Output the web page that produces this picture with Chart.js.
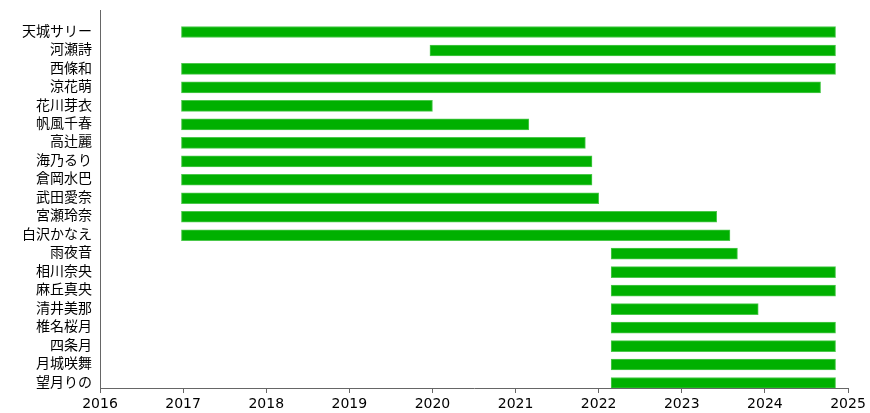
<!DOCTYPE html>
<html>
<head>
<meta charset="utf-8">
<script src="https://cdn.jsdelivr.net/npm/chart.js@4"></script>
<style>
  html, body { margin: 0; padding: 0; background: #fff; }
  #wrap { width: 870px; height: 413px; }
</style>
</head>
<body>
<div id="wrap"><canvas id="chart"></canvas></div>
<script>
const names = ['天城サリー', '河瀬詩', '西條和', '涼花萌', '花川芽衣', '帆風千春', '高辻麗', '海乃るり', '倉岡水巴', '武田愛奈', '宮瀬玲奈', '白沢かなえ', '雨夜音', '相川奈央', '麻丘真央', '清井美那', '椎名桜月', '四条月', '月城咲舞', '望月りの'];
const startYear = [2016.98, 2019.97, 2016.98, 2016.98, 2016.98, 2016.98, 2016.98, 2016.98, 2016.98, 2016.98, 2016.98, 2016.98, 2022.15, 2022.15, 2022.15, 2022.15, 2022.15, 2022.15, 2022.15, 2022.15];
const endYear = [2024.85, 2024.85, 2024.85, 2024.67, 2020.0, 2021.16, 2021.84, 2021.92, 2021.92, 2022.0, 2023.42, 2023.58, 2023.67, 2024.85, 2024.85, 2023.92, 2024.85, 2024.85, 2024.85, 2024.85];
const yearTicks = [2016, 2017, 2018, 2019, 2020, 2021, 2022, 2023, 2024, 2025];

const axisColor = '#666';
const font = { family: "'DejaVu Sans', 'Noto Sans CJK JP', sans-serif", size: 14 };

new Chart(document.getElementById('chart'), {
    type: 'bar',
    data: {
        datasets: [{
            data: names.map((n, i) => ({ x: [startYear[i], endYear[i]], y: i })),
            backgroundColor: '#00b000',
            borderColor: '#4cc84c',
            borderWidth: 1,
            borderSkipped: false,
            barThickness: 11
        }]
    },
    options: {
        indexAxis: 'y',
        responsive: true,
        maintainAspectRatio: false,
        animation: false,
        layout: { padding: { top: 10, right: 22, left: 0, bottom: 0 } },
        plugins: { legend: { display: false }, tooltip: { enabled: false } },
        scales: {
            x: {
                type: 'linear',
                min: 2016,
                max: 2025,
                afterBuildTicks: s => { s.ticks = yearTicks.map(v => ({ value: v })); },
                afterFit: s => { s.height = 25; },
                ticks: { color: '#000', font: font, padding: 3, maxRotation: 0, callback: v => String(v) },
                grid: { display: true, drawOnChartArea: false, drawTicks: true, tickLength: 5, color: axisColor },
                border: { display: true, color: axisColor, width: 1 }
            },
            y: {
                type: 'linear',
                reverse: true,
                offset: false,
                min: -1.19,
                max: 19.27,
                afterBuildTicks: s => { s.ticks = names.map((n, i) => ({ value: i })); },
                afterFit: s => { s.width = 100; s.paddingTop = 0; s.paddingBottom = 0; },
                ticks: { color: '#000', font: font, padding: 8, autoSkip: false, callback: v => names[v] },
                grid: { display: true, offset: false, drawOnChartArea: false, drawTicks: false, color: axisColor },
                border: { display: true, color: axisColor, width: 1 }
            }
        }
    }
});
</script>
</body>
</html>
